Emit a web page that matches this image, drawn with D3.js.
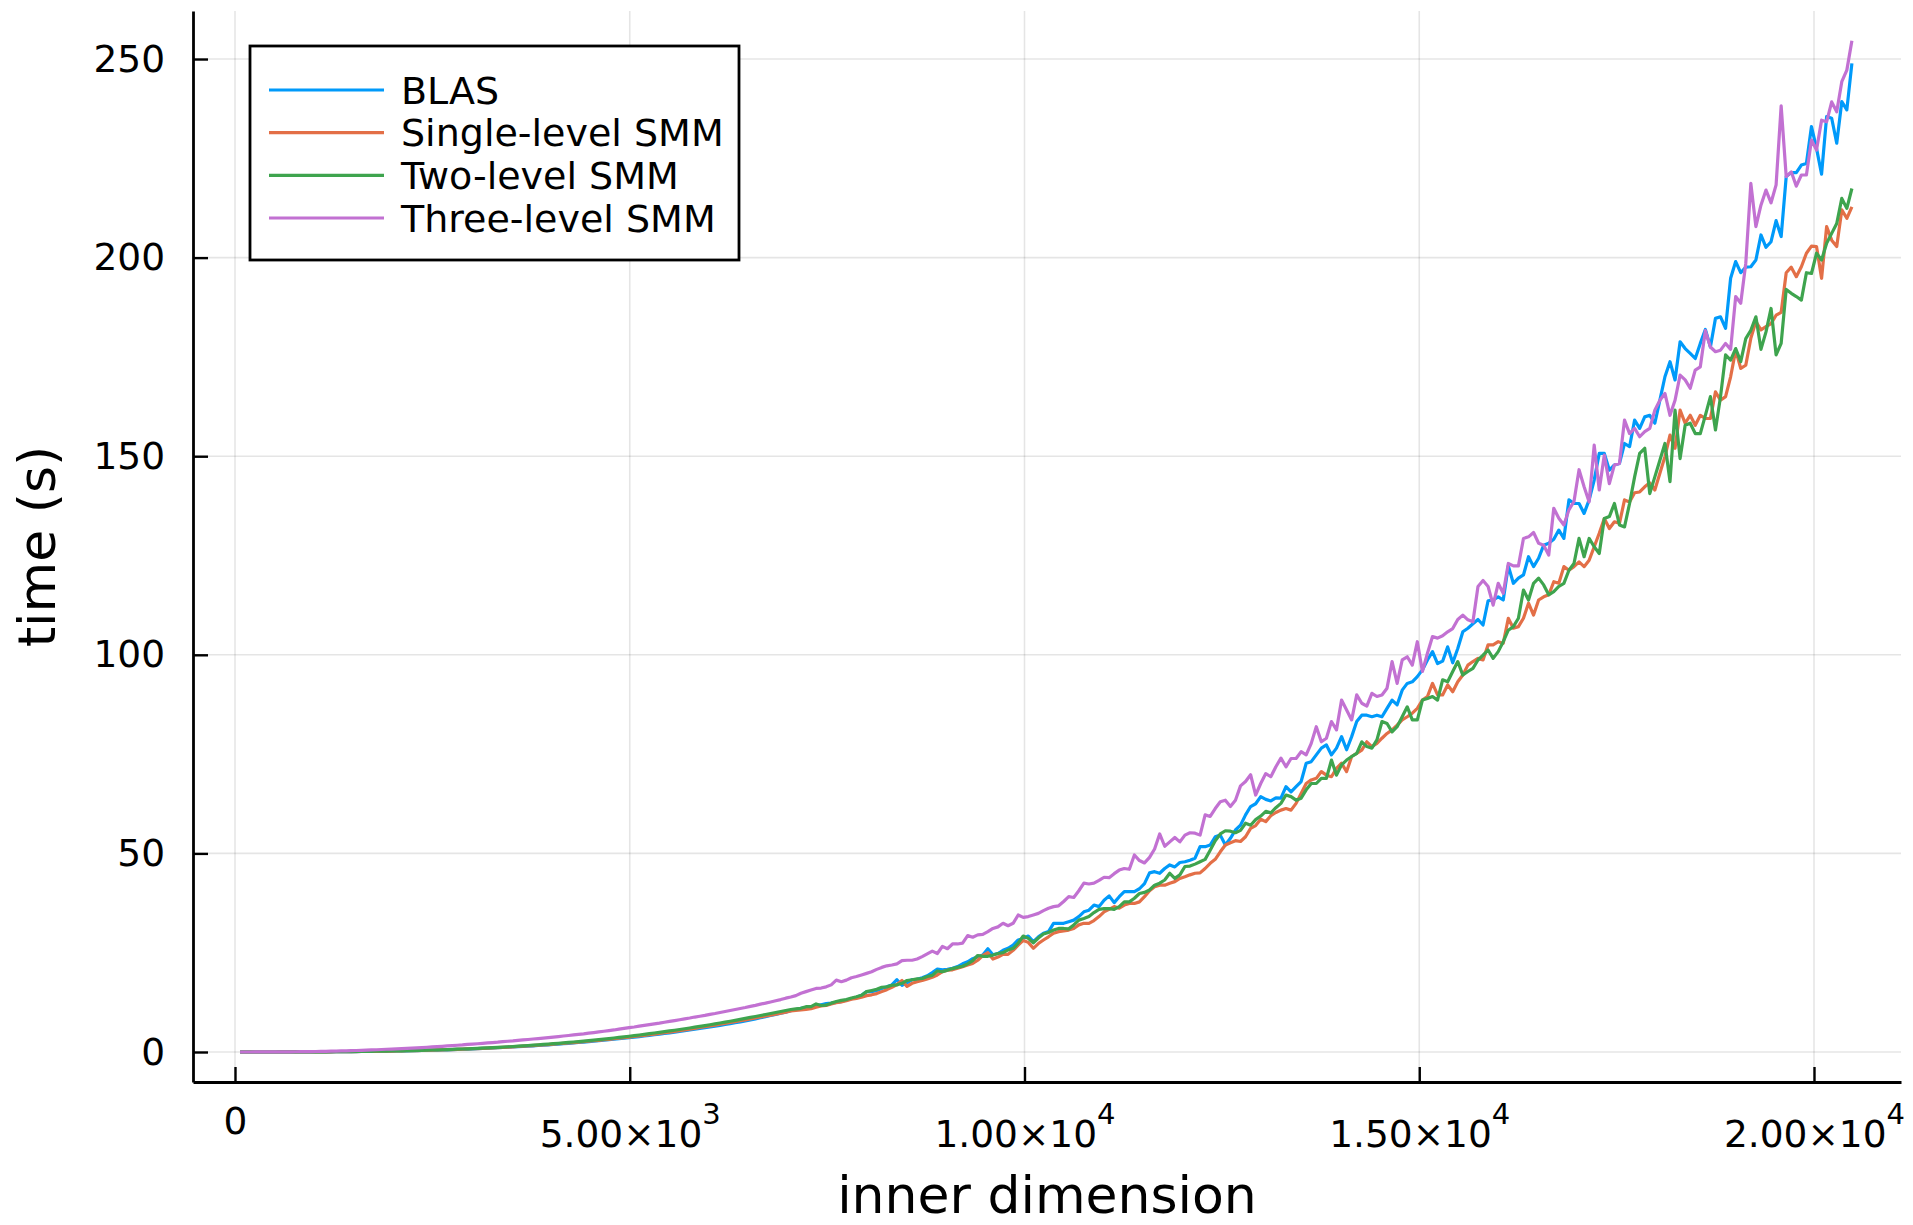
<!DOCTYPE html>
<html>
<head>
<meta charset="utf-8">
<script src="https://cdn.jsdelivr.net/npm/d3@7"></script>
<style>
  body { margin: 0; background: #ffffff; }
  svg { display: block; }
  text { font-family: "DejaVu Sans", sans-serif; fill: #000; }
</style>
</head>
<body>
<svg id="chart" width="1913" height="1225"></svg>
<script>
// ---------------- data ----------------
const xStep = 64;            // inner dimension step between measurements
const nPoints = 320;         // 64 ... 20480
const innerDim = d3.range(1, nPoints + 1).map(i => i * xStep);

const seriesNames = ["BLAS", "Single-level SMM", "Two-level SMM", "Three-level SMM"];
const seriesColors = ["#009AFA", "#E36F47", "#3EA44E", "#C271D2"];

const blas = [
  0, 0, 0, 0, 0, 0, 0, 0, 0.01, 0.01,
  0.01, 0.01, 0.02, 0.02, 0.03, 0.03, 0.04, 0.04, 0.05, 0.06,
  0.07, 0.08, 0.09, 0.11, 0.12, 0.13, 0.15, 0.17, 0.19, 0.21,
  0.23, 0.25, 0.27, 0.30, 0.33, 0.35, 0.38, 0.42, 0.45, 0.49,
  0.52, 0.56, 0.60, 0.65, 0.69, 0.74, 0.79, 0.84, 0.89, 0.95,
  1.01, 1.07, 1.13, 1.20, 1.26, 1.33, 1.41, 1.48, 1.56, 1.64,
  1.73, 1.81, 1.90, 1.99, 2.09, 2.18, 2.29, 2.39, 2.50, 2.61,
  2.72, 2.84, 2.96, 3.08, 3.21, 3.34, 3.47, 3.61, 3.75, 3.89,
  4.04, 4.19, 4.35, 4.50, 4.67, 4.83, 5.00, 5.18, 5.36, 5.54,
  5.73, 5.92, 6.11, 6.31, 6.52, 6.72, 6.94, 7.15, 7.37, 7.60,
  7.85, 8.10, 8.35, 8.62, 8.90, 9.18, 9.46, 9.75, 10.05, 10.38,
  10.70, 11.0, 11.2, 11.4, 11.6, 11.9, 12.2, 12.3, 12.5, 12.7,
  13.1, 13.4, 13.8, 14.3, 15.2, 15.2, 15.5, 16.0, 16.4, 16.9,
  18.2, 16.8, 17.4, 18.2, 18.3, 18.7, 19.2, 20.0, 20.9, 20.7,
  20.8, 21.1, 21.5, 22.2, 22.7, 23.5, 24.0, 24.4, 26.0, 24.5,
  24.8, 25.6, 26.1, 26.9, 28.2, 28.6, 29.2, 27.8, 29.0, 29.9,
  30.3, 32.4, 32.4, 32.4, 32.8, 33.2, 34.1, 35.3, 35.7, 37.0,
  36.6, 38.2, 39.3, 37.6, 39.1, 40.4, 40.4, 40.4, 41.1, 42.4,
  45.1, 45.4, 45.0, 46.2, 47.1, 46.6, 47.7, 47.9, 48.3, 48.8,
  51.7, 51.7, 52.1, 54.2, 54.6, 52.1, 53.8, 55.9, 57.1, 59.7,
  61.8, 62.5, 64.3, 63.6, 63.2, 64.0, 63.9, 66.8, 65.5, 66.8,
  68.1, 72.7, 73.1, 74.8, 76.5, 77.3, 74.8, 76.5, 79.4, 76.1,
  79.4, 83.2, 84.8, 84.8, 84.4, 84.8, 84.4, 86.5, 88.6, 87.4,
  91.1, 92.8, 93.2, 94.5, 96.2, 98.7, 100.8, 97.8, 98.4, 102.0,
  98.0, 101.6, 105.8, 106.7, 107.8, 108.9, 107.5, 113.6, 113.8, 114.6,
  113.8, 122.4, 118.0, 119.3, 120.1, 124.7, 122.2, 124.3, 127.6, 128.1,
  129.1, 131.4, 129.3, 139.0, 138.1, 138.1, 135.6, 139.0, 144.0, 150.7,
  150.7, 146.5, 147.8, 148.2, 153.2, 152.4, 159.1, 157.0, 159.9, 160.3,
  158.3, 164.1, 170.0, 173.8, 169.2, 178.8, 177.1, 175.9, 174.6, 178.4,
  181.9, 177.5, 184.7, 185.1, 182.2, 194.8, 199.0, 196.2, 197.6, 197.7,
  199.4, 205.7, 202.6, 204.0, 209.3, 205.3, 220.4, 221.4, 221.4, 223.3,
  223.7, 233.0, 227.5, 221.0, 235.5, 235.1, 228.8, 239.3, 237.2, 248.9
];

const singleSMM = [
  0, 0, 0, 0, 0, 0, 0, 0, 0.01, 0.01,
  0.01, 0.01, 0.02, 0.02, 0.03, 0.03, 0.04, 0.04, 0.05, 0.06,
  0.07, 0.08, 0.09, 0.11, 0.12, 0.14, 0.16, 0.18, 0.20, 0.22,
  0.24, 0.26, 0.28, 0.31, 0.34, 0.36, 0.40, 0.44, 0.47, 0.51,
  0.54, 0.58, 0.62, 0.68, 0.72, 0.77, 0.82, 0.87, 0.93, 0.99,
  1.05, 1.11, 1.18, 1.25, 1.31, 1.38, 1.47, 1.54, 1.62, 1.71,
  1.80, 1.88, 1.98, 2.07, 2.17, 2.27, 2.38, 2.49, 2.60, 2.71,
  2.83, 2.95, 3.08, 3.20, 3.34, 3.47, 3.61, 3.75, 3.90, 4.05,
  4.20, 4.36, 4.52, 4.68, 4.86, 5.02, 5.20, 5.39, 5.57, 5.76,
  5.96, 6.16, 6.35, 6.56, 6.78, 6.99, 7.22, 7.44, 7.66, 7.90,
  8.10, 8.32, 8.55, 8.80, 9.05, 9.30, 9.55, 9.80, 10.05, 10.32,
  10.45, 10.6, 10.7, 10.9, 11.3, 11.6, 11.7, 12.1, 12.4, 12.6,
  12.9, 13.3, 13.5, 13.8, 14.2, 14.4, 14.7, 15.2, 15.7, 16.3,
  17.0, 18.0, 16.5, 17.3, 17.7, 18.0, 18.4, 18.8, 19.4, 20.2,
  20.6, 20.7, 21.1, 21.5, 21.9, 22.3, 23.1, 24.3, 25.0, 23.4,
  23.9, 24.6, 24.6, 25.6, 26.9, 28.1, 27.6, 26.1, 27.3, 28.2,
  29.0, 29.9, 30.3, 30.5, 30.7, 31.1, 32.0, 32.4, 32.4, 33.1,
  34.1, 35.3, 35.9, 36.6, 36.2, 37.0, 37.4, 37.4, 37.8, 39.1,
  40.6, 41.6, 42.0, 42.0, 42.5, 42.9, 43.7, 44.1, 44.6, 45.0,
  45.1, 46.2, 47.5, 48.5, 50.4, 52.1, 52.7, 53.2, 53.0, 54.2,
  56.3, 57.0, 58.6, 58.0, 59.5, 60.3, 60.9, 61.3, 60.9, 62.6,
  65.1, 67.6, 68.5, 68.9, 70.6, 69.7, 69.3, 71.4, 72.7, 70.6,
  74.4, 75.2, 76.0, 78.1, 76.9, 77.7, 79.0, 80.2, 81.1, 82.3,
  83.6, 84.4, 85.3, 86.5, 88.6, 89.5, 92.8, 89.9, 89.9, 92.4,
  90.7, 93.2, 94.9, 97.4, 98.3, 99.1, 98.7, 102.5, 102.5, 103.3,
  102.9, 109.2, 106.7, 107.1, 109.2, 113.0, 110.0, 113.8, 114.6, 115.1,
  118.4, 118.0, 122.2, 121.3, 122.2, 123.4, 122.2, 123.8, 127.2, 130.6,
  134.3, 131.8, 133.5, 133.1, 139.0, 138.5, 140.8, 141.0, 142.3, 143.3,
  141.5, 145.7, 149.9, 155.3, 152.0, 161.6, 158.3, 160.3, 157.8, 160.3,
  159.5, 159.5, 166.2, 164.1, 165.0, 170.0, 176.7, 172.1, 172.9, 179.7,
  183.9, 181.8, 182.6, 183.4, 185.5, 186.2, 196.2, 197.6, 195.2, 197.7,
  201.1, 202.9, 202.8, 194.8, 207.8, 204.4, 202.8, 212.0, 209.9, 212.8
];

const twoSMM = [
  0, 0, 0, 0, 0, 0, 0, 0, 0.01, 0.01,
  0.01, 0.01, 0.02, 0.02, 0.03, 0.03, 0.04, 0.05, 0.06, 0.07,
  0.08, 0.09, 0.10, 0.12, 0.13, 0.15, 0.17, 0.19, 0.21, 0.23,
  0.25, 0.28, 0.30, 0.33, 0.36, 0.39, 0.42, 0.46, 0.50, 0.54,
  0.57, 0.62, 0.66, 0.71, 0.76, 0.81, 0.87, 0.92, 0.98, 1.04,
  1.11, 1.18, 1.24, 1.32, 1.39, 1.46, 1.55, 1.63, 1.72, 1.80,
  1.90, 1.99, 2.09, 2.19, 2.30, 2.40, 2.52, 2.63, 2.75, 2.87,
  2.99, 3.12, 3.26, 3.39, 3.53, 3.67, 3.82, 3.97, 4.12, 4.28,
  4.44, 4.61, 4.78, 4.95, 5.13, 5.30, 5.48, 5.67, 5.86, 6.05,
  6.25, 6.45, 6.65, 6.86, 7.08, 7.29, 7.52, 7.74, 7.96, 8.20,
  8.45, 8.70, 8.95, 9.20, 9.45, 9.70, 9.95, 10.20, 10.45, 10.70,
  10.85, 11.0, 11.4, 11.4, 12.1, 11.7, 11.8, 12.3, 12.7, 13.0,
  13.2, 13.6, 13.9, 14.3, 15.2, 15.5, 15.8, 16.3, 16.4, 16.8,
  16.9, 17.3, 18.0, 18.2, 18.4, 18.5, 19.0, 19.3, 20.4, 20.2,
  20.6, 21.0, 21.3, 21.6, 22.2, 23.0, 24.3, 24.1, 24.1, 24.4,
  24.8, 25.0, 25.7, 26.1, 27.4, 29.2, 28.6, 27.5, 28.7, 29.7,
  30.1, 30.7, 31.1, 31.1, 31.0, 32.0, 33.2, 33.6, 34.1, 35.1,
  35.9, 36.1, 36.1, 35.9, 36.6, 37.8, 37.8, 38.7, 39.9, 40.2,
  40.8, 42.0, 42.5, 43.3, 45.0, 43.7, 44.6, 46.7, 46.8, 47.3,
  47.9, 48.5, 50.8, 53.2, 54.9, 55.7, 55.6, 55.2, 55.8, 57.6,
  57.1, 58.5, 59.4, 60.6, 60.2, 61.5, 62.6, 64.7, 64.3, 63.4,
  63.9, 66.0, 67.6, 67.6, 68.9, 68.9, 73.5, 69.7, 72.3, 73.5,
  74.4, 75.2, 78.1, 76.9, 76.5, 78.6, 83.2, 82.7, 80.6, 81.9,
  84.4, 86.9, 83.6, 83.6, 88.6, 89.0, 89.5, 88.6, 93.7, 93.2,
  95.8, 98.3, 94.9, 95.8, 96.6, 98.7, 99.9, 101.2, 99.1, 100.8,
  103.3, 106.2, 107.1, 109.2, 116.3, 113.8, 118.0, 119.3, 117.6, 115.1,
  115.9, 117.2, 118.0, 121.3, 123.0, 129.3, 124.7, 129.3, 127.2, 125.5,
  134.3, 134.8, 138.1, 132.7, 132.2, 138.1, 144.8, 150.7, 152.0, 140.6,
  144.8, 149.0, 153.2, 143.6, 161.6, 149.4, 157.8, 158.3, 155.7, 155.7,
  160.3, 165.0, 156.6, 165.0, 175.5, 174.2, 177.1, 173.8, 179.6, 181.7,
  185.1, 176.9, 181.3, 187.2, 175.5, 178.4, 192.0, 191.0, 190.2, 189.3,
  196.2, 196.0, 201.1, 199.4, 203.6, 206.1, 208.6, 214.9, 212.4, 217.4
];

const threeSMM = [
  0.00, 0.00, 0.00, 0.01, 0.01, 0.01, 0.02, 0.02, 0.03, 0.04,
  0.05, 0.06, 0.07, 0.09, 0.10, 0.12, 0.14, 0.17, 0.20, 0.23,
  0.27, 0.30, 0.34, 0.38, 0.42, 0.47, 0.52, 0.57, 0.63, 0.69,
  0.74, 0.80, 0.86, 0.92, 0.99, 1.05, 1.12, 1.20, 1.27, 1.35,
  1.43, 1.52, 1.60, 1.70, 1.78, 1.90, 1.98, 2.08, 2.17, 2.28,
  2.38, 2.47, 2.60, 2.70, 2.80, 2.93, 3.03, 3.15, 3.28, 3.38,
  3.50, 3.62, 3.76, 3.88, 4.02, 4.15, 4.30, 4.44, 4.58, 4.75,
  4.90, 5.05, 5.22, 5.38, 5.55, 5.75, 5.95, 6.15, 6.30, 6.52,
  6.70, 6.90, 7.10, 7.28, 7.50, 7.70, 7.90, 8.12, 8.35, 8.55,
  8.80, 9.00, 9.22, 9.48, 9.70, 9.95, 10.20, 10.45, 10.70, 10.95,
  11.20, 11.50, 11.75, 12.05, 12.30, 12.60, 12.90, 13.20, 13.55, 13.85,
  14.20, 14.8, 15.2, 15.6, 16.0, 16.1, 16.4, 16.9, 18.1, 17.7,
  18.1, 18.7, 19.0, 19.4, 19.8, 20.2, 20.8, 21.3, 21.7, 21.9,
  22.2, 23.0, 23.1, 23.1, 23.4, 24.0, 24.7, 25.4, 24.8, 26.6,
  26.0, 27.2, 27.2, 27.4, 29.3, 28.9, 29.5, 29.6, 30.3, 31.1,
  31.5, 32.4, 31.8, 32.4, 34.5, 33.9, 34.1, 34.5, 34.9, 35.6,
  36.2, 36.6, 36.8, 37.9, 39.1, 38.9, 40.6, 42.5, 42.3, 42.5,
  43.2, 44.0, 43.9, 44.9, 45.8, 46.2, 46.0, 49.6, 48.2, 47.6,
  49.0, 51.1, 54.9, 51.8, 52.9, 54.0, 52.9, 54.6, 55.2, 55.1,
  54.6, 59.7, 59.3, 61.3, 63.0, 63.4, 61.8, 63.4, 67.0, 68.1,
  69.8, 64.7, 67.6, 70.1, 69.3, 71.8, 74.0, 71.8, 73.9, 73.9,
  75.6, 74.8, 77.7, 81.9, 78.1, 79.0, 83.2, 81.1, 88.6, 86.1,
  83.6, 89.9, 87.8, 87.1, 90.3, 89.5, 89.9, 91.6, 98.3, 92.8,
  98.7, 99.5, 97.4, 103.3, 95.8, 100.4, 104.6, 104.2, 104.8, 105.8,
  106.6, 108.9, 110.0, 108.8, 108.3, 117.2, 118.7, 117.2, 112.5, 118.0,
  115.5, 123.0, 122.4, 122.4, 129.3, 129.7, 130.8, 128.1, 127.6, 125.1,
  136.9, 134.4, 132.7, 136.5, 138.6, 146.6, 142.3, 138.5, 152.8, 141.5,
  150.3, 143.1, 147.8, 148.2, 159.1, 155.7, 157.0, 154.9, 156.2, 157.0,
  161.6, 164.1, 165.8, 160.3, 164.1, 170.4, 169.2, 167.1, 171.7, 172.5,
  181.6, 177.5, 176.3, 176.7, 178.4, 176.9, 190.2, 188.5, 198.6, 218.7,
  207.8, 213.2, 217.0, 213.8, 218.3, 238.2, 220.4, 221.6, 218.0, 220.8,
  220.8, 229.6, 227.1, 234.6, 234.2, 239.2, 236.7, 244.3, 247.2, 254.6
];

const yTicks = [0, 50, 100, 150, 200, 250];
const xTicks = [0, 5000, 10000, 15000, 20000];
const xTickMantissa = ["0", "5.00×10", "1.00×10", "1.50×10", "2.00×10"];
const xTickExponent = ["", "3", "4", "4", "4"];
const xLabel = "inner dimension";
const yLabel = "time (s)";

// ---------------- layout ----------------
const plot = { left: 193, right: 1901, top: 11, bottom: 1082 };
const xDomain = [-532, 21102];
const yDomain = [-7.553, 262.09];
const tickFont = 37.5, legendFont = 38, guideFont = 52;

const svg = d3.select("#chart");
svg.append("rect").attr("width", 1913).attr("height", 1225).attr("fill", "#fff");

const x = d3.scaleLinear().domain(xDomain).range([plot.left, plot.right]);
const y = d3.scaleLinear().domain(yDomain).range([plot.bottom, plot.top]);

// grid
const grid = svg.append("g").attr("stroke", "#000").attr("stroke-opacity", 0.1).attr("stroke-width", 1.6);
grid.selectAll("line.gy").data(yTicks).join("line").attr("class", "gy")
  .attr("x1", plot.left).attr("x2", plot.right)
  .attr("y1", d => y(d)).attr("y2", d => y(d));
grid.selectAll("line.gx").data(xTicks).join("line").attr("class", "gx")
  .attr("y1", plot.top).attr("y2", plot.bottom)
  .attr("x1", d => x(d)).attr("x2", d => x(d));

// series
const series = [blas, singleSMM, twoSMM, threeSMM];
const line = d3.line().x(d => x(d[0])).y(d => y(d[1]));
series.forEach((vals, k) => {
  const pts = innerDim.map((xv, i) => [xv, vals[i]]);
  svg.append("path").datum(pts)
    .attr("d", line)
    .attr("fill", "none")
    .attr("stroke", seriesColors[k])
    .attr("stroke-width", 3.2)
    .attr("stroke-linejoin", "round");
});

// axes
const yAxis = d3.axisLeft(y).tickValues(yTicks).tickSizeInner(-15).tickSizeOuter(0).tickPadding(28)
  .tickFormat(d3.format("d"));
const gy = svg.append("g").attr("transform", `translate(${plot.left},0)`).call(yAxis);
gy.select(".domain").attr("stroke", "#000").attr("stroke-width", 2.8);
gy.selectAll(".tick line").attr("stroke", "#000").attr("stroke-width", 2.4);
gy.selectAll(".tick text").attr("font-size", tickFont).attr("font-family", "DejaVu Sans");

const xAxis = d3.axisBottom(x).tickValues(xTicks).tickSizeInner(-15).tickSizeOuter(0).tickFormat("");
const gx = svg.append("g").attr("transform", `translate(0,${plot.bottom})`).call(xAxis);
gx.select(".domain").attr("stroke", "#000").attr("stroke-width", 2.8);
gx.selectAll(".tick line").attr("stroke", "#000").attr("stroke-width", 2.4);
gx.selectAll(".tick text").remove();
gx.selectAll(".tick").each(function(d, i) {
  const t = d3.select(this).append("text")
    .attr("text-anchor", "middle")
    .attr("font-size", tickFont)
    .attr("fill", "#000")
    .attr("y", xTickExponent[i] ? 65 : 52);
  t.append("tspan").text(xTickMantissa[i]);
  if (xTickExponent[i]) {
    t.append("tspan").attr("dy", -23).attr("font-size", 29).text(xTickExponent[i]);
  }
});

// axis titles
svg.append("text").attr("x", (plot.left + plot.right) / 2).attr("y", 1213)
  .attr("text-anchor", "middle").attr("font-size", guideFont).text(xLabel);
svg.append("text").attr("transform", `translate(55,${(plot.top + plot.bottom) / 2}) rotate(-90)`)
  .attr("text-anchor", "middle").attr("font-size", guideFont).text(yLabel);

// legend
const lg = svg.append("g");
lg.append("rect").attr("x", 250).attr("y", 46).attr("width", 489).attr("height", 214)
  .attr("fill", "#fff").attr("stroke", "#000").attr("stroke-width", 2.8);
const rowY = [90, 132.7, 175.3, 218];
seriesNames.forEach((name, k) => {
  lg.append("line").attr("x1", 269).attr("x2", 384).attr("y1", rowY[k]).attr("y2", rowY[k])
    .attr("stroke", seriesColors[k]).attr("stroke-width", 3.2);
  lg.append("text").attr("x", 401).attr("y", rowY[k] + 13.5)
    .attr("font-size", legendFont).text(name);
});
</script>
</body>
</html>
